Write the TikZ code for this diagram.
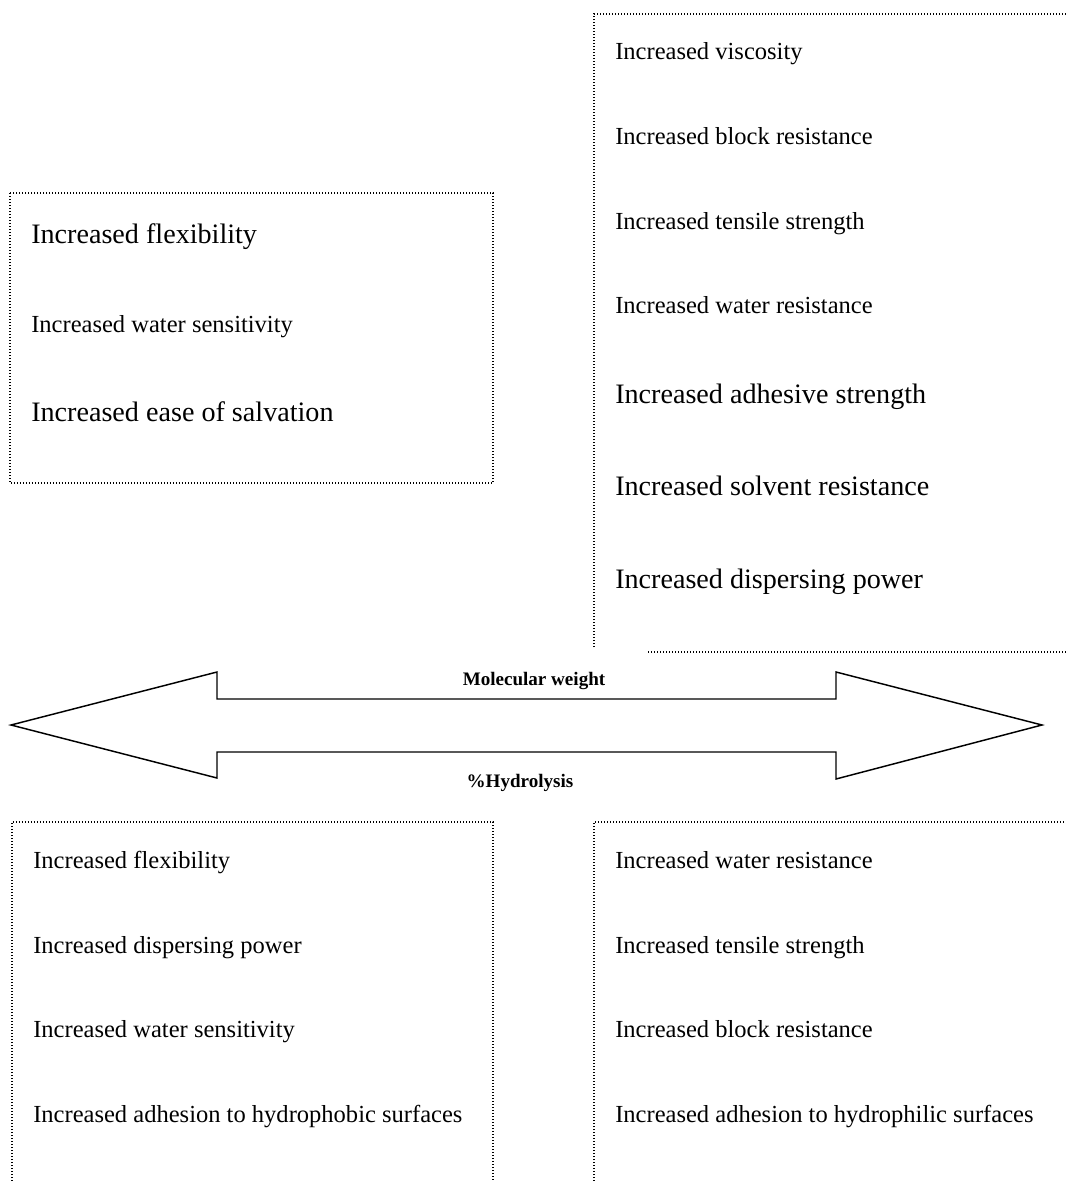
\documentclass[tikz,border=0pt]{standalone}
\usepackage{fontspec}
\setmainfont{Liberation Serif}
\usetikzlibrary{
	positioning,calc
}
\tikzset{
	smallitem/.style={
		anchor=base west, inner sep=0pt, font=\fontsize{18.4}{22}\selectfont
	},
	%
	bigitem/.style={
		anchor=base west, inner sep=0pt, font=\fontsize{21.1}{25}\selectfont
	},
	%
	axislabel/.style={
		anchor=base, inner sep=0pt, font=\fontsize{14.3}{17}\selectfont\bfseries
	},
	%
	dotline/.style={
		line width=0.8pt, dash pattern=on 0.8pt off 1.45pt
	},
	%
	bigarrow/.style={
		line width=1.1pt, line join=miter, draw=black, fill=white
	}
}

\begin{document}
\begin{tikzpicture}[x=0.75pt, y=-0.75pt]
    \useasboundingbox (0,0) rectangle (1066,1181);
    % frames
    \draw[dotline] (594,647) -- (594,14) -- (1066,14);
    \draw[dotline] (648,652) -- (1066,652);
    \draw[dotline] (10,193) rectangle (493,483);
    \draw[dotline] (12,1181) -- (12,822) -- (493,822) -- (493,1181);
    \draw[dotline] (594,1181) -- (594,822) -- (1066,822);
    % high molecular weight
    \node(visc)[smallitem] at (615,60){Increased viscosity};
    \node(block)[smallitem] at (615,144){Increased block resistance};
    \node(tens)[smallitem] at (615,229){Increased tensile strength};
    \node(wres)[smallitem] at (615,313){Increased water resistance};
    \node(adh)[bigitem] at (615,403){Increased adhesive strength};
    \node(solv)[bigitem] at (615,495){Increased solvent resistance};
    \node(disp)[bigitem] at (615,588){Increased dispersing power};
    % low molecular weight
    \node(flex)[bigitem] at (31,243){Increased flexibility};
    \node(wsens)[smallitem] at (31,332){Increased water sensitivity};
    \node(salv)[bigitem] at (31,421){Increased ease of salvation};
    % double arrow
    \draw[bigarrow] (11,725) -- (217,672) -- (217,699) -- (836,699) -- (836,672)
        -- (1042,725) -- (836,779) -- (836,752) -- (217,752) -- (217,778) -- cycle;
    \node(mw)[axislabel] at (534,685){Molecular weight};
    \node(hyd)[axislabel] at (520,787){\%Hydrolysis};
    % low hydrolysis
    \node(lflex)[smallitem] at (33,868){Increased flexibility};
    \node(ldisp)[smallitem] at (33,953){Increased dispersing power};
    \node(lwsens)[smallitem] at (33,1037){Increased water sensitivity};
    \node(lphob)[smallitem] at (33,1122){Increased adhesion to hydrophobic surfaces};
    % high hydrolysis
    \node(hwres)[smallitem] at (615,868){Increased water resistance};
    \node(htens)[smallitem] at (615,953){Increased tensile strength};
    \node(hblock)[smallitem] at (615,1037){Increased block resistance};
    \node(hphil)[smallitem] at (615,1122){Increased adhesion to hydrophilic surfaces};
\end{tikzpicture}
\end{document}
